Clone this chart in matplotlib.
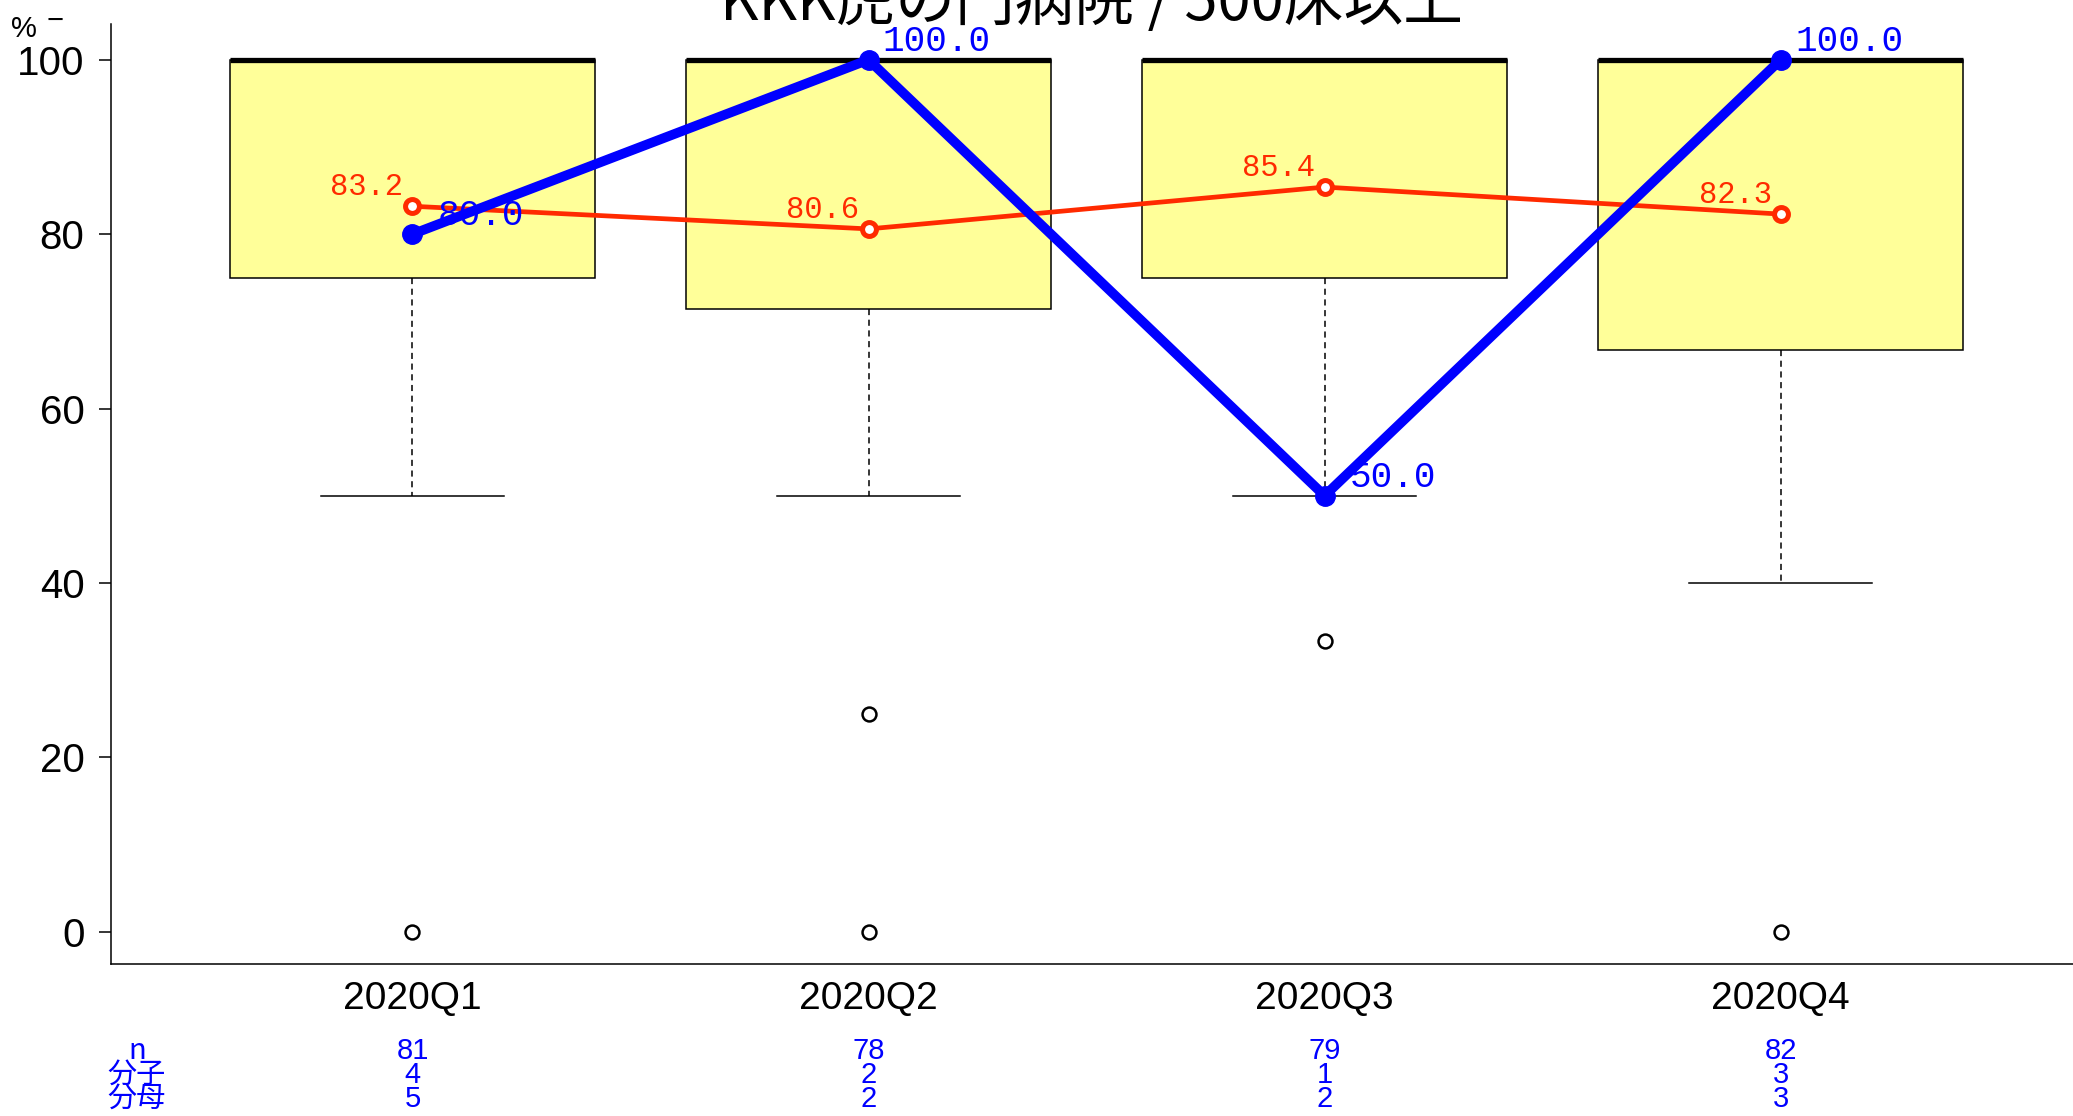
import matplotlib
matplotlib.use("Agg")
import matplotlib.pyplot as plt
import numpy as np
from matplotlib.transforms import blended_transform_factory

# box statistics per quarter (percent)
quarters = ["2020Q1", "2020Q2", "2020Q3", "2020Q4"]
box_q1 = [75.0, 71.4, 75.0, 66.7]
box_med = [100.0, 100.0, 100.0, 100.0]
box_q3 = [100.0, 100.0, 100.0, 100.0]
whisk_lo = [50.0, 50.0, 50.0, 40.0]
whisk_hi = [100.0, 100.0, 100.0, 100.0]
fliers = [[0.0], [25.0, 0.0], [33.3], [0.0]]

# overall mean (red) and this hospital (blue)
all_mean = [83.2, 80.6, 85.4, 82.3]
hosp_rate = [80.0, 100.0, 50.0, 100.0]

# table under the axis
row_names = ["n", "分子", "分母"]
n_hosp = [81, 78, 79, 82]
numer = [4, 2, 1, 3]
denom = [5, 2, 2, 3]

title = "KKK虎の門病院 / 500床以上"

SANS = ["Liberation Sans", "DejaVu Sans"]
MONO = ["Liberation Mono", "DejaVu Sans Mono"]
CJK = ["Noto Sans CJK JP", "DejaVu Sans"]

W, H = 2073, 1116
fig = plt.figure(figsize=(W / 100, H / 100), dpi=100)
ax = fig.add_axes([111 / W, (H - 964) / H, (W - 111) / W, (964 - 24) / H])

x = np.arange(1, len(quarters) + 1)

stats = []
for i in range(len(quarters)):
    stats.append(dict(med=box_med[i], q1=box_q1[i], q3=box_q3[i],
                      whislo=whisk_lo[i], whishi=whisk_hi[i], fliers=fliers[i]))

ax.bxp(stats, positions=x, widths=0.8, capwidths=0.4, patch_artist=True,
       boxprops=dict(facecolor="#ffff99", edgecolor="black", linewidth=1.1),
       medianprops=dict(color="black", linewidth=3.8, solid_capstyle="butt"),
       whiskerprops=dict(color="black", linestyle=(0, (4, 3)), linewidth=1.1),
       capprops=dict(color="black", linewidth=1.1),
       flierprops=dict(marker="o", markerfacecolor="none", markeredgecolor="black",
                       markersize=10, markeredgewidth=1.8))

red = "#ff2a00"
blue = "#0000ff"
ax.plot(x, all_mean, color=red, lw=3.4, marker="o", ms=10, mfc="white",
        mec=red, mew=3.6, zorder=4)
ax.plot(x, hosp_rate, color=blue, lw=7, marker="o", ms=14, zorder=5,
        solid_capstyle="round")

for xi, v in zip(x, all_mean):
    ax.text(xi - 0.1, v + 2.2, f"{v:.1f}", color=red, fontsize=22,
            family=MONO, ha="center", va="center", zorder=6)
for xi, v in zip(x, hosp_rate):
    ax.text(xi + 0.15, v + 2.1, f"{v:.1f}", color=blue, fontsize=26,
            family=MONO, ha="center", va="center", zorder=6)

ax.set_xlim(0.339, 4.641)
ax.set_ylim(-3.7, 104.1)
ax.set_yticks([0, 20, 40, 60, 80, 100])
ax.set_xticks(x)
ax.set_xticklabels(quarters)
for lab in ax.get_xticklabels() + ax.get_yticklabels():
    lab.set_family(SANS)
ax.tick_params(axis="y", labelsize=29, length=9, width=1.1, pad=10)
ax.tick_params(axis="x", labelsize=28, length=0, pad=12)

for s in ["top", "right"]:
    ax.spines[s].set_visible(False)
for s in ["left", "bottom"]:
    ax.spines[s].set_linewidth(1.1)

# title (partly cut off at the top edge, as in the original)
fig.text((111 + W) / 2 / W, 1 - 20 / H, title, fontsize=43, family=CJK,
         ha="center", va="baseline")

# y unit label
fig.text(24 / W, 1 - 29 / H, "%", fontsize=21, family=SANS, ha="center", va="center")
fig.text(55 / W, 1 - 21 / H, "−", fontsize=21, family=SANS, ha="center", va="center")

# table
tr = blended_transform_factory(ax.transData, fig.transFigure)
row_y = [1051, 1075, 1099]
for name, vals, yy in zip(row_names, [n_hosp, numer, denom], row_y):
    fig.text(137 / W, 1 - yy / H, name, fontsize=21, family=CJK, color=blue,
             ha="center", va="center")
    for xi, v in zip(x, vals):
        ax.text(xi, 1 - yy / H, str(v), transform=tr, fontsize=21, family=SANS,
                color=blue, ha="center", va="center", clip_on=False)

fig.savefig("out.png", dpi=100)
